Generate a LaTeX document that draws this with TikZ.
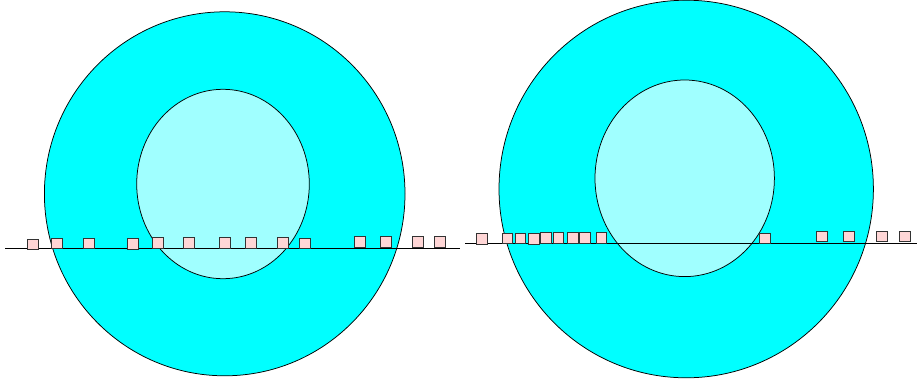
\documentclass[tikz,border=0pt]{standalone}
\begin{document}
\begin{tikzpicture}[x=1pt,y=-1pt,
  sq/.style={draw=black!80,fill=sqpink,minimum size=10.5pt,inner sep=0pt,line width=0.8pt},
  ring/.style={draw=black,line width=0.75pt}]
\definecolor{outercyan}{HTML}{00FFFF}
\definecolor{innercyan}{HTML}{A0FFFF}
\definecolor{sqpink}{HTML}{FFD6D6}
\useasboundingbox (0,0) rectangle (917,381);
% left diagram
\draw[ring,fill=outercyan] (224.7,193.8) ellipse [x radius=180.3, y radius=182];
\draw[ring,fill=innercyan] (223,184) ellipse [x radius=86.3, y radius=94.7];
\coordinate (la) at (5,248.7);
\coordinate (lb) at (460,248.7);
\draw[line width=1.1pt] (la) -- (lb);
\foreach \x/\y [count=\i] in {33/244.3,57/243.3,89/243.5,133/244,158/242.8,189/242.8,225/242.8,251/242.8,283/242.8,305/243.3,360/241.7,386/241.7,418/241.8,440/241.8}
  \node[sq] (L\i) at (\x,\y) {};
% right diagram
\draw[ring,fill=outercyan] (686.2,189) ellipse [x radius=187.2, y radius=188.8];
\draw[ring,fill=innercyan] (684.7,178.3) ellipse [x radius=89.7, y radius=98.3];
\coordinate (ra) at (465,243.7);
\coordinate (rb) at (917,243.7);
\draw[line width=1.1pt] (ra) -- (rb);
\foreach \x/\y [count=\i] in {482/239,507.3/238.3,520.3/238.3,533.7/238.7,545.7/237.8,558.3/237.8,572.7/237.8,585/237.8,601.3/238,765/238.3,821.7/236.3,849/236.3,881.7/236.5,905/236.5}
  \node[sq] (R\i) at (\x,\y) {};
\end{tikzpicture}
\end{document}
